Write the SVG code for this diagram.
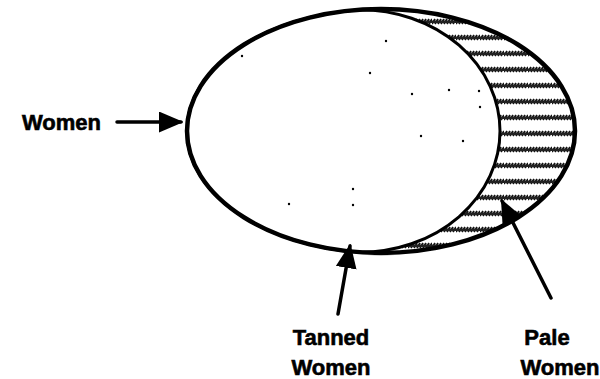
<svg xmlns="http://www.w3.org/2000/svg" width="600" height="379" viewBox="0 0 600 379">
<defs>
<style>
.lbl{font-family:"Liberation Sans",Arial,sans-serif;font-weight:bold;font-size:22px;fill:#000;stroke:#000;stroke-width:0.6}
.con{stroke:#000;stroke-width:3.5;fill:none;stroke-linecap:round}
.dot{fill:#000}
</style>
<pattern id="hatch" width="24" height="16" patternUnits="userSpaceOnUse" y="2">
<g stroke="#111" stroke-width="1.8">
<line x1="0" y1="6" x2="3" y2="1"/><line x1="3" y1="6" x2="6" y2="1"/><line x1="6" y1="6" x2="9" y2="1"/>
<line x1="9" y1="6" x2="12" y2="1"/><line x1="12" y1="6" x2="15" y2="1"/><line x1="15" y1="6" x2="18" y2="1"/>
<line x1="18" y1="6" x2="21" y2="1"/><line x1="21" y1="6" x2="24" y2="1"/>
</g>
<rect x="0" y="2.5" width="24" height="2.5" fill="#222"/>
</pattern>
<marker id="ah" viewBox="0 0 10 10" refX="9" refY="5" markerWidth="7" markerHeight="6" orient="auto" markerUnits="strokeWidth" preserveAspectRatio="none">
<path d="M0,0 L10,5 L0,10 z" fill="#000"/>
</marker>
</defs>
<rect width="600" height="379" fill="#fff"/>
<g id="pale-women">
<ellipse cx="381" cy="131" rx="194" ry="122" fill="url(#hatch)"/>
</g>
<g id="tanned-women">
<path d="M360,9.7 A194,122 0 0,0 360,252.3 A140,121.3 0 0,0 360,9.7 Z" fill="#fff" stroke="#000" stroke-width="3"/>
<g class="dot">
<circle cx="242" cy="56" r="1.2"/><circle cx="386" cy="41" r="1.2"/><circle cx="370" cy="73" r="1.2"/>
<circle cx="412" cy="94" r="1.2"/><circle cx="421" cy="136" r="1.2"/><circle cx="353" cy="189" r="1.2"/>
<circle cx="289" cy="204" r="1.2"/><circle cx="353" cy="205" r="1.2"/><circle cx="449" cy="90" r="1.2"/>
<circle cx="479" cy="91" r="1.2"/><circle cx="480" cy="107" r="1.2"/><circle cx="463" cy="141" r="1.2"/>
</g>
</g>
<g id="women">
<ellipse cx="381" cy="131" rx="194" ry="122" fill="none" stroke="#000" stroke-width="4.5"/>
</g>
<g id="connectors">
<line class="con" x1="117" y1="122" x2="181" y2="122" marker-end="url(#ah)"/>
<line class="con" x1="338" y1="314" x2="350" y2="246" marker-end="url(#ah)"/>
<line class="con" x1="551" y1="298" x2="502" y2="201" marker-end="url(#ah)"/>
</g>
<g id="labels">
<text class="lbl" x="22" y="130">Women</text>
<text class="lbl" x="331" y="345" text-anchor="middle">Tanned</text>
<text class="lbl" x="331" y="375" text-anchor="middle">Women</text>
<text class="lbl" x="547" y="345" text-anchor="middle">Pale</text>
<text class="lbl" x="560" y="375" text-anchor="middle">Women</text>
</g>
</svg>
